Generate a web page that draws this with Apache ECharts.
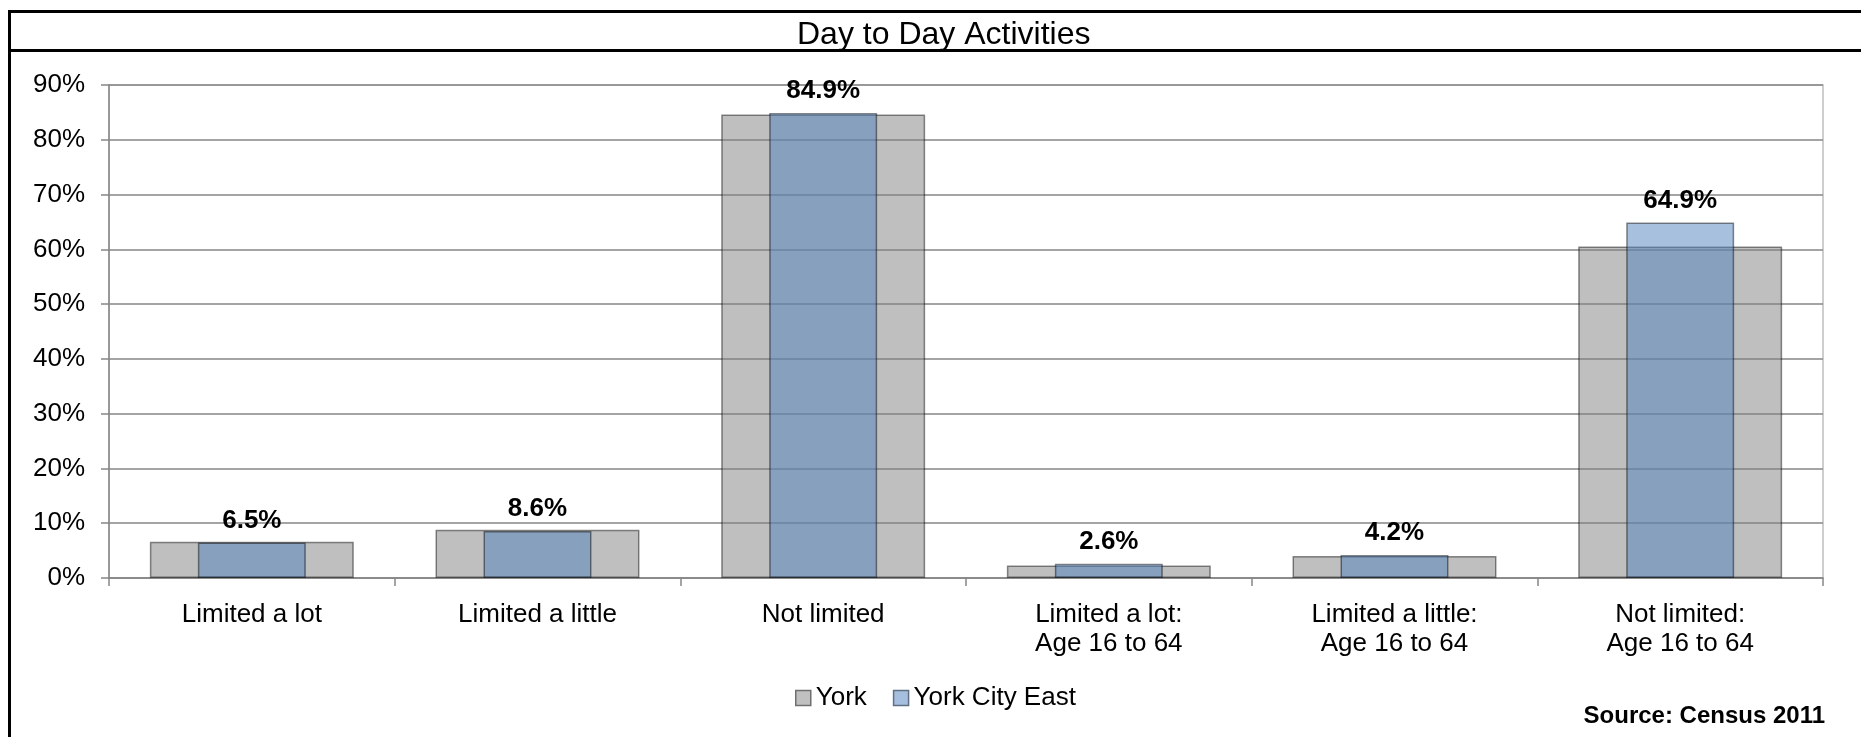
<!DOCTYPE html>
<html>
<head>
<meta charset="utf-8">
<script src="https://cdn.jsdelivr.net/npm/echarts@6/dist/echarts.min.js"></script>
<style>
html,body{margin:0;padding:0;background:#fff;}
#chart{width:1861px;height:737px;}
</style>
</head>
<body>
<div id="chart"></div>
<script>
var categories = ['Limited a lot', 'Limited a little', 'Not limited', 'Limited a lot:\nAge 16 to 64', 'Limited a little:\nAge 16 to 64', 'Not limited:\nAge 16 to 64'];
var yorkValues = [6.6, 8.8, 84.6, 2.3, 4.0, 60.5];
var yorkCityEastValues = [6.5, 8.6, 84.9, 2.6, 4.2, 64.9];
var yTicks = [0, 10, 20, 30, 40, 50, 60, 70, 80, 90];

var FONT = '"Liberation Sans", Arial, sans-serif';
var chart = echarts.init(document.getElementById('chart'), null, {renderer: 'canvas'});
var axisGrey = '#868686';

chart.setOption({
  backgroundColor: '#ffffff',
  animation: false,
  title: {
    text: 'Day to Day Activities',
    left: 797, top: 19, padding: 0,
    textStyle: {fontFamily: FONT, fontSize: 32, fontWeight: 'normal', color: '#000'}
  },
  grid: {left: 109, right: 38, top: 85, bottom: 159, show: true, borderColor: '#bfbfbf', borderWidth: 1.5, containLabel: false},
  legend: {
    left: 795, top: 685, padding: 0,
    itemWidth: 15, itemHeight: 15, itemGap: 26,
    textStyle: {fontFamily: FONT, fontSize: 26, color: '#000', lineHeight: 26},
    data: [
      {name: 'York', icon: 'rect', itemStyle: {color: '#c0c0c0', borderColor: '#6f6f6f', borderWidth: 1.5}},
      {name: 'York City East', icon: 'rect', itemStyle: {color: '#a6bfdf', borderColor: '#5f6f85', borderWidth: 1.5}}
    ]
  },
  xAxis: [
    {
      type: 'category', data: categories, boundaryGap: true,
      axisLine: {show: true, lineStyle: {color: axisGrey, width: 1.5}},
      axisTick: {show: true, length: 8, lineStyle: {color: axisGrey, width: 1.5}},
      axisLabel: {fontFamily: FONT, fontSize: 26, color: '#000', lineHeight: 29, margin: 22, interval: 0},
      splitLine: {show: false}
    },
    {
      type: 'category', data: categories, show: false, boundaryGap: true
    }
  ],
  yAxis: {
    type: 'value', min: yTicks[0], max: yTicks[yTicks.length - 1], interval: 10,
    axisLine: {show: true, lineStyle: {color: axisGrey, width: 1.5}},
    axisTick: {show: true, length: 8, lineStyle: {color: axisGrey, width: 1.5}},
    axisLabel: {fontFamily: FONT, fontSize: 26, color: '#000', margin: 24, formatter: '{value}%'},
    splitLine: {show: true, lineStyle: {color: axisGrey, width: 1.5}}
  },
  series: [
    {
      name: 'York', type: 'bar', xAxisIndex: 0, data: yorkValues, barWidth: '71.4%',
      itemStyle: {color: 'rgba(128,128,128,0.5)', borderColor: 'rgba(0,0,0,0.45)', borderWidth: 1.5},
      emphasis: {disabled: true}
    },
    {
      name: 'York City East', type: 'bar', xAxisIndex: 1, data: yorkCityEastValues, barWidth: '37.8%',
      itemStyle: {color: 'rgba(79,129,189,0.5)', borderColor: 'rgba(0,0,0,0.45)', borderWidth: 1.5},
      label: {show: true, position: 'top', distance: 9, formatter: '{c}%', fontFamily: FONT, fontSize: 26, fontWeight: 'bold', color: '#000'},
      emphasis: {disabled: true}
    }
  ],
  graphic: [
    {type: 'line', silent: true, shape: {x1: 8, y1: 11.5, x2: 1861, y2: 11.5}, style: {stroke: '#000', lineWidth: 3}},
    {type: 'line', silent: true, shape: {x1: 8, y1: 50.5, x2: 1861, y2: 50.5}, style: {stroke: '#000', lineWidth: 3}},
    {type: 'line', silent: true, shape: {x1: 9.5, y1: 10, x2: 9.5, y2: 737}, style: {stroke: '#000', lineWidth: 3}},
    {type: 'text', silent: true, x: 1825, y: 716, style: {text: 'Source: Census 2011', fill: '#000', font: 'bold 24px ' + FONT, textAlign: 'right', textVerticalAlign: 'middle'}}
  ]
});
</script>
</body>
</html>
